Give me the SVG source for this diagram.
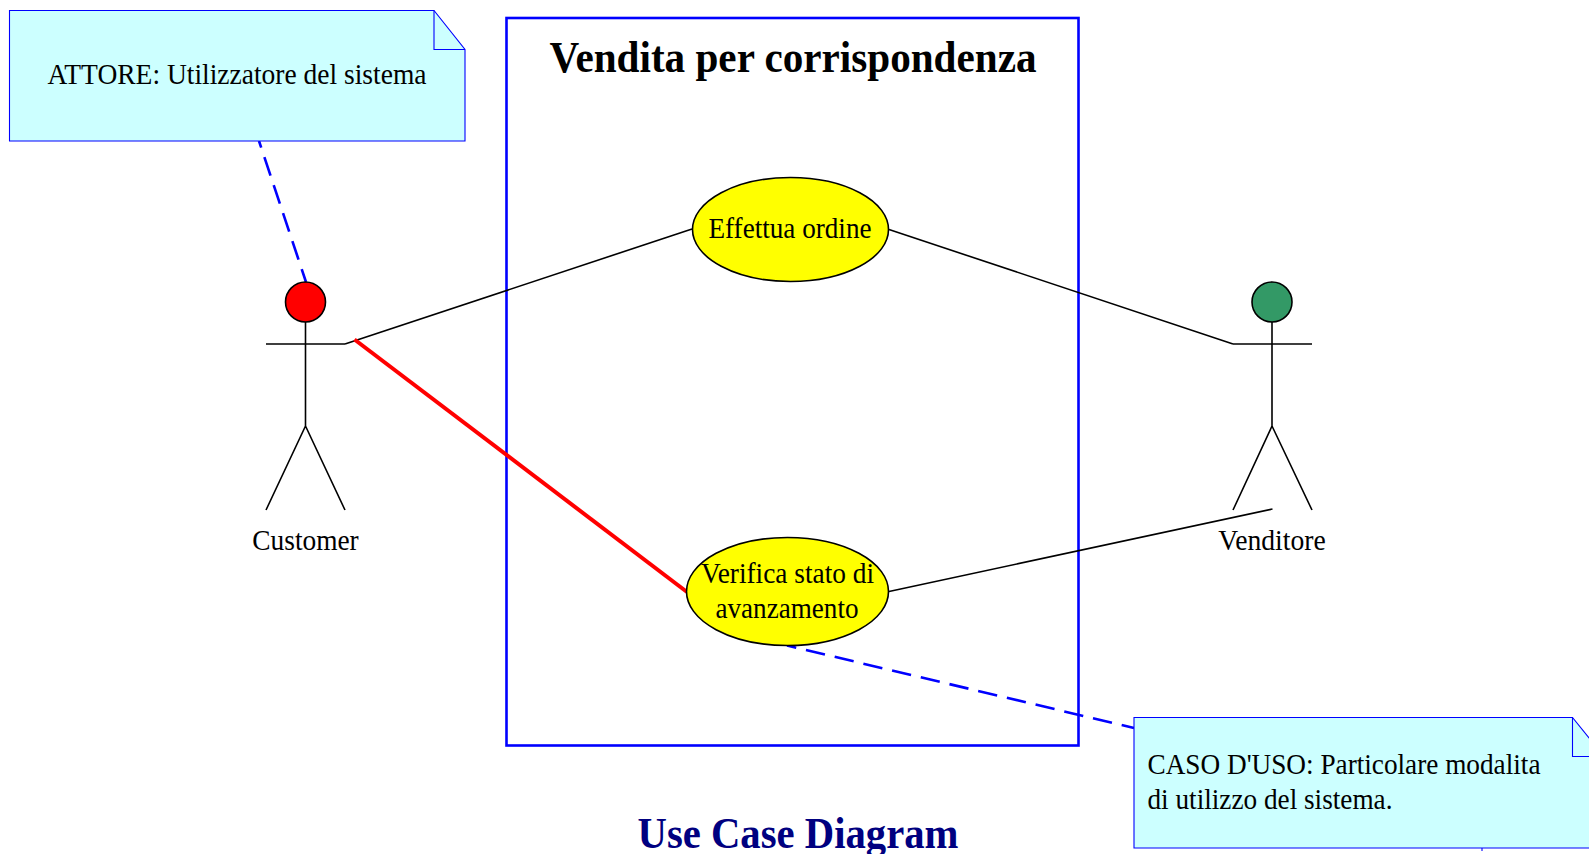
<svg xmlns="http://www.w3.org/2000/svg" width="1589" height="854" viewBox="0 0 1589 854">
<style>
text{font-family:"Liberation Serif","Times New Roman",serif;fill:#000}
.t{font-size:28.5px;text-anchor:middle}
.l{font-size:28.5px}
.b{font-size:43.5px;font-weight:bold;text-anchor:middle}
.n{fill:#ccffff;stroke:#0000ff;stroke-width:1.1}
.f{fill:none;stroke:#0000ff;stroke-width:1.1}
.s{fill:none;stroke:#000;stroke-width:1.6}
.u{fill:#ffff00;stroke:#000;stroke-width:1.6}
.d{fill:none;stroke:#0000ff;stroke-width:2.6;stroke-dasharray:19.5 10}
</style>
<rect x="0" y="0" width="1589" height="854" fill="#fff"/>
<g id="boundary">
<rect x="506.5" y="18" width="572" height="727.5" fill="none" stroke="#0000ff" stroke-width="2.6"/>
<text class="b" x="793" y="72" textLength="487" lengthAdjust="spacingAndGlyphs">Vendita per corrispondenza</text>
</g>
<g id="connectors">
<path class="s" d="M345 344L692 229"/>
<path class="s" d="M889 229.500L1233 344"/>
<path class="s" d="M889 591.500L1272.500 509"/>
<path d="M354.500 339.500L687 592" fill="none" stroke="#ff0000" stroke-width="4"/>
<path class="d" d="M259 141L306 282" stroke-dashoffset="12.5"/>
<path class="d" d="M787 645.500L1134 728" stroke-dashoffset="10"/>
</g>
<g id="note-attore">
<path class="n" d="M9.500 10.500H434L465 49.500V141H9.500Z"/>
<path class="f" d="M434 10.500V49.500H465"/>
<text class="t" x="237" y="84" textLength="379" lengthAdjust="spacingAndGlyphs">ATTORE: Utilizzatore del sistema</text>
</g>
<g id="actor-customer">
<circle cx="305.500" cy="302" r="20" fill="#ff0000" stroke="#000" stroke-width="1.6"/>
<path class="s" d="M305.500 322V426M266 344H345M305.500 426L266 510M305.500 426L345 510"/>
<text class="t" x="305.500" y="550" textLength="106.400" lengthAdjust="spacingAndGlyphs">Customer</text>
</g>
<g id="actor-venditore">
<circle cx="1272" cy="302" r="20" fill="#339966" stroke="#000" stroke-width="1.6"/>
<path class="s" d="M1272 322V426M1233 344H1312M1272 426L1233 510M1272 426L1312 510"/>
<text class="t" x="1272" y="550" textLength="107.400" lengthAdjust="spacingAndGlyphs">Venditore</text>
</g>
<g id="usecase-effettua">
<ellipse class="u" cx="790.500" cy="229.500" rx="98" ry="52"/>
<text class="t" x="790" y="238" textLength="163" lengthAdjust="spacingAndGlyphs">Effettua ordine</text>
</g>
<g id="usecase-verifica">
<ellipse class="u" cx="787.500" cy="591.500" rx="101" ry="54"/>
<text class="t" x="787.500" y="583" textLength="173" lengthAdjust="spacingAndGlyphs">Verifica stato di</text>
<text class="t" x="787" y="618" textLength="143" lengthAdjust="spacingAndGlyphs">avanzamento</text>
</g>
<g id="note-caso">
<path class="n" d="M1134 717.500H1572.500L1604 756.500V848H1134Z"/>
<path class="f" d="M1572.500 717.500V756.500H1604"/>
<path class="f" d="M1482 848V851"/>
<text class="l" x="1147.500" y="774" textLength="393" lengthAdjust="spacingAndGlyphs">CASO D'USO: Particolare modalita</text>
<text class="l" x="1147.500" y="809" textLength="245" lengthAdjust="spacingAndGlyphs">di utilizzo del sistema.</text>
</g>
<text class="b" x="798" y="848" textLength="321" lengthAdjust="spacingAndGlyphs" style="fill:#000080">Use Case Diagram</text>
</svg>
